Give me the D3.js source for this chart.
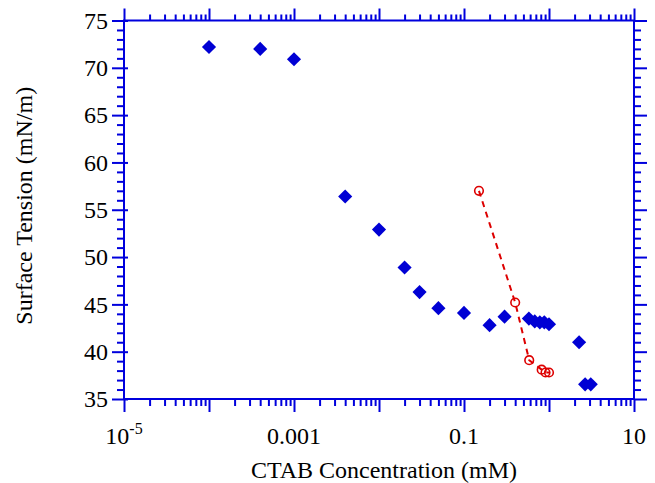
<!DOCTYPE html>
<html><head><meta charset="utf-8">
<script src="https://cdn.jsdelivr.net/npm/d3@7"></script>
<style>body{margin:0;background:#fff}svg{display:block}</style>
</head><body>
<script>
const ctabConc = [1e-4, 4e-4, 1e-3, 4e-3, 0.01, 0.02, 0.03, 0.05, 0.1, 0.2, 0.3, 0.58, 0.68, 0.78, 0.88, 1.0, 2.26, 2.66, 3.1];
const ctabTension = [72.2, 72.0, 70.9, 56.4, 52.9, 48.9, 46.3, 44.6, 44.1, 42.8, 43.7, 43.5, 43.2, 43.1, 43.1, 42.9, 41.0, 36.55, 36.55];
const redConc = [0.15, 0.40, 0.585, 0.82, 0.91, 1.0];
const redTension = [57.0, 45.2, 39.1, 38.1, 37.8, 37.8];
const xMajorTicks = [1e-5, 1e-3, 0.1, 10];
const xMajorLabels = [["10","-5"], ["0.001",""], ["0.1",""], ["10",""]];
const yMajorTicks = [35, 40, 45, 50, 55, 60, 65, 70, 75];
const xTitle = "CTAB Concentration (mM)";
const yTitle = "Surface Tension (mN/m)";

const FONT = "'Liberation Serif', 'Times New Roman', Times, 'DejaVu Serif', serif";
const W = 655, H = 483;
const L = 124, R = 634, T = 20.5, B = 399;
const blue = "#0000d4", red = "#dd0000", axisC = "#0000dd";

const svg = d3.select("body").append("svg").attr("width", W).attr("height", H)
  .attr("font-family", FONT);
svg.append("rect").attr("width", W).attr("height", H).attr("fill", "#fff");

const x = d3.scaleLog().domain([1e-5, 10]).range([L, R]);
const y = d3.scaleLinear().domain([35, 75]).range([B, T]);

const xMinor = [];
for (let e = -5; e < 1; e++) for (let m = 1; m <= 9; m++) xMinor.push(m * Math.pow(10, e));
xMinor.push(10);
const xDecades = xMinor.filter(v => Math.abs(Math.log10(v) - Math.round(Math.log10(v))) < 1e-9);
const xMin = xMinor.filter(v => !xDecades.includes(v));
const yMinor = d3.range(35, 76, 1).filter(v => v % 5 !== 0);
const yAll = d3.range(35, 76, 5);

const g = svg.append("g");
function axisLines(axisGen, transform, major, minor, majLen, minLen) {
  g.append("g").attr("transform", transform)
    .call(axisGen.tickValues(minor).tickSize(minLen).tickFormat(""))
    .call(s => s.select(".domain").remove())
    .call(s => s.selectAll("line").attr("stroke", axisC).attr("stroke-width", 2));
  g.append("g").attr("transform", transform)
    .call(axisGen.tickValues(major).tickSize(majLen).tickFormat(""))
    .call(s => s.select(".domain").remove())
    .call(s => s.selectAll("line").attr("stroke", axisC).attr("stroke-width", 2));
}
axisLines(d3.axisBottom(x), `translate(0,${B})`, xDecades, xMin, 13, 7);
axisLines(d3.axisTop(x), `translate(0,${T})`, xDecades, xMin, 12, 6);
axisLines(d3.axisRight(y), `translate(${R},0)`, yAll, yMinor, 13, 7);
g.append("g").attr("transform", `translate(${L},0)`)
  .call(d3.axisLeft(y).tickValues(yMinor).tickSize(7).tickFormat(""))
  .call(s => s.select(".domain").remove())
  .call(s => s.selectAll("line").attr("stroke", axisC).attr("stroke-width", 2));
g.append("g").attr("transform", `translate(${L},0)`)
  .call(d3.axisLeft(y).tickValues(yAll).tickSize(12).tickFormat(""))
  .call(s => s.select(".domain").remove())
  .call(s => s.selectAll("line").attr("stroke", axisC).attr("stroke-width", 2).attr("x2", -12).attr("x1", 4));

g.append("rect").attr("x", L).attr("y", T).attr("width", R - L).attr("height", B - T)
  .attr("fill", "none").attr("stroke", axisC).attr("stroke-width", 2);

svg.append("g").selectAll("text").data(yMajorTicks).join("text")
  .attr("font-family", FONT)
  .attr("x", L - 16).attr("y", d => y(d)).attr("dy", "0.34em")
  .attr("text-anchor", "end").attr("font-size", 24).attr("fill", "#000").text(d => d);

const xl = svg.append("g").selectAll("text").data(xMajorTicks).join("text")
  .attr("font-family", FONT)
  .attr("x", d => x(d)).attr("y", 444).attr("text-anchor", "middle").attr("font-size", 24).attr("fill", "#000");
xl.each(function(d, i) {
  const t = d3.select(this);
  const [base, sup] = xMajorLabels[i];
  t.append("tspan").text(base);
  if (sup) t.append("tspan").attr("font-size", 16).attr("dy", -10).text(sup);
});

svg.append("text").attr("font-family", FONT).attr("x", (L + R) / 2 + 5).attr("y", 478).attr("text-anchor", "middle")
  .attr("font-size", 24).attr("fill", "#000").text(xTitle);
svg.append("text").attr("font-family", FONT).attr("transform", `translate(32,${(T + B) / 2 - 4}) rotate(-90)`)
  .attr("text-anchor", "middle").attr("font-size", 24).attr("fill", "#000").text(yTitle);

const redData = redConc.map((c, i) => [c, redTension[i]]);
svg.append("path").datum(redData)
  .attr("d", d3.line().x(d => x(d[0])).y(d => y(d[1])))
  .attr("fill", "none").attr("stroke", red).attr("stroke-width", 2).attr("stroke-dasharray", "6,5");
svg.append("g").selectAll("circle").data(redData).join("circle")
  .attr("cx", d => x(d[0])).attr("cy", d => y(d[1])).attr("r", 4.3)
  .attr("fill", "none").attr("stroke", red).attr("stroke-width", 1.6);

const blueData = ctabConc.map((c, i) => [c, ctabTension[i]]);
const dsym = d3.symbol().type(d3.symbolSquare).size(100);
svg.append("g").selectAll("path").data(blueData).join("path")
  .attr("d", dsym)
  .attr("transform", d => `translate(${x(d[0])},${y(d[1])}) rotate(45)`)
  .attr("fill", blue);
</script>
</body></html>
